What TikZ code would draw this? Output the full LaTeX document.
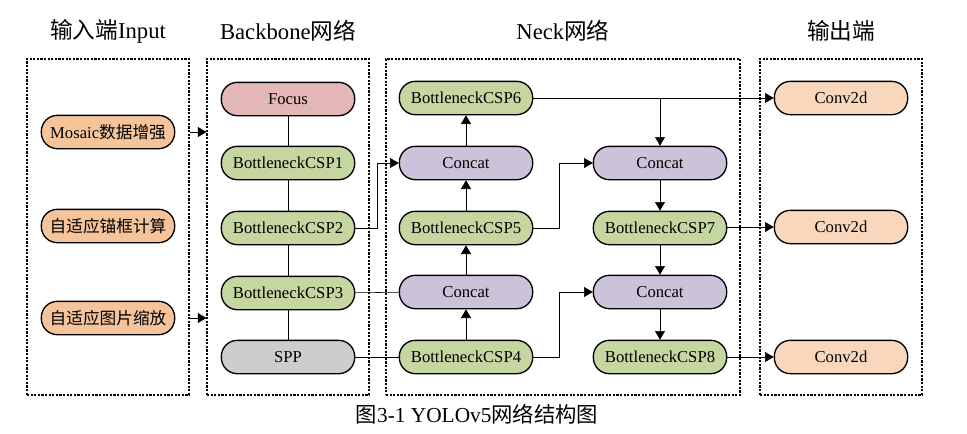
\documentclass[tikz,border=0pt]{standalone}
\usepackage{fontspec}
\setmainfont{Liberation Serif}
\newfontfamily\cjk{Noto Sans CJK SC}
\usetikzlibrary{arrows.meta,positioning}
\definecolor{focuscol}{HTML}{E2B7B5}
\definecolor{cspcol}{HTML}{C5D6A1}
\definecolor{catcol}{HTML}{CCC3DA}
\definecolor{sppcol}{HTML}{CDCDCD}
\definecolor{inpcol}{HTML}{F5C49B}
\definecolor{outcol}{HTML}{F9D7BC}
\tikzset{
	>={Triangle[length=6.5pt,width=7.5pt]}, line width=0.8pt,
	blk/.style ={rectangle, rounded corners=12pt, draw, line width=1pt, minimum width=100pt, minimum height=25pt, inner sep=1pt, font=\fontsize{12.5}{14}\selectfont},
	inp/.style = {blk, fill=inpcol},
	csp/.style = {blk, fill=cspcol},
	cat/.style = {blk, fill=catcol},
	outp/.style = {blk, fill=outcol},
	grp/.style = {draw, line width=0.8pt, dash pattern=on 1.6pt off 1.1pt, minimum width=121.5pt, minimum height=252pt},
	ttl/.style = {font=\fontsize{17}{20}\selectfont}
}

\begin{document}
\begin{tikzpicture}[x=0.75pt, y=-0.75pt]
		\useasboundingbox (0,0) rectangle (967,433);
		% groups
		\node[grp] (inbox) at (108,227) {};
		\node[grp] (bbbox) at (288,227) {};
		\node[grp, minimum width=265.5pt] (neckbox) at (563,227) {};
		\node[grp] (outbox) at (841,227) {};
		\node[ttl] (t1) at (108,31) {{\cjk 输入端}Input};
		\node[ttl] (t2) at (288,31) {Backbone{\cjk 网络}};
		\node[ttl] (t3) at (563,31) {Neck{\cjk 网络}};
		\node[ttl] (t4) at (841,31) {\cjk 输出端};
		
		% input
		\node[inp] (mosaic) at (108,132) {Mosaic{\cjk 数据增强}};
		\node[inp] (anchor) at (108,226) {\cjk 自适应锚框计算};
		\node[inp] (scale) at (108,318) {\cjk 自适应图片缩放};
		
		% backbone
		\node[blk, fill=focuscol] (focus) at (288,99) {Focus};
		\node[csp] (csp1) at (288,163) {BottleneckCSP1};
		\node[csp] (csp2) at (288,228) {BottleneckCSP2};
		\node[csp] (csp3) at (288,293) {BottleneckCSP3};
		\node[blk, fill=sppcol] (spp) at (288,357) {SPP};
		
		% neck
		\node[csp] (csp6) at (466,98) {BottleneckCSP6};
		\node[cat] (cat1) at (466,163) {Concat};
		\node[csp] (csp5) at (466,228) {BottleneckCSP5};
		\node[cat] (cat2) at (466,292) {Concat};
		\node[csp] (csp4) at (466,357) {BottleneckCSP4};
		\node[cat] (cat3) at (660,163) {Concat};
		\node[csp] (csp7) at (660,228) {BottleneckCSP7};
		\node[cat] (cat4) at (660,292) {Concat};
		\node[csp] (csp8) at (660,357) {BottleneckCSP8};
		
		% output
		\node[outp] (out1) at (841,98) {Conv2d};
		\node[outp] (out2) at (841,227) {Conv2d};
		\node[outp] (out3) at (841,357) {Conv2d};
		
		% edges
		\draw[->] (inbox.east |- mosaic) -- (bbbox.west |- mosaic);
		\draw[->] (inbox.east |- scale) -- (bbbox.west |- scale);
		\draw (focus) -- (csp1) -- (csp2) -- (csp3) -- (spp);
		\draw[->] (csp2.east) -- ++(22,0) |- (cat1.west);
		\draw (csp3) -- (cat2);
		\draw (spp) -- (csp4);
		\draw[->] (csp4) -- (cat2);
		\draw[->] (cat2) -- (csp5);
		\draw[->] (csp5) -- (cat1);
		\draw[->] (cat1) -- (csp6);
		\draw[->] (csp6) -- (out1);
		\draw[->] (csp6.east -| cat3) -- (cat3);
		\draw[->] (csp5.east) -- ++(26,0) |- (cat3.west);
		\draw[->] (csp4.east) -- ++(26,0) |- (cat4.west);
		\draw[->] (cat3) -- (csp7);
		\draw[->] (csp7) -- (cat4);
		\draw[->] (cat4) -- (csp8);
		\draw[->] (csp7.east |- out2) -- (out2);
		\draw[->] (csp8) -- (out3);
		
		\node[font=\fontsize{16}{19}\selectfont] (cap) at (477,414) {{\cjk 图}3-1 YOLOv5{\cjk 网络结构图}};
\end{tikzpicture}
\end{document}
